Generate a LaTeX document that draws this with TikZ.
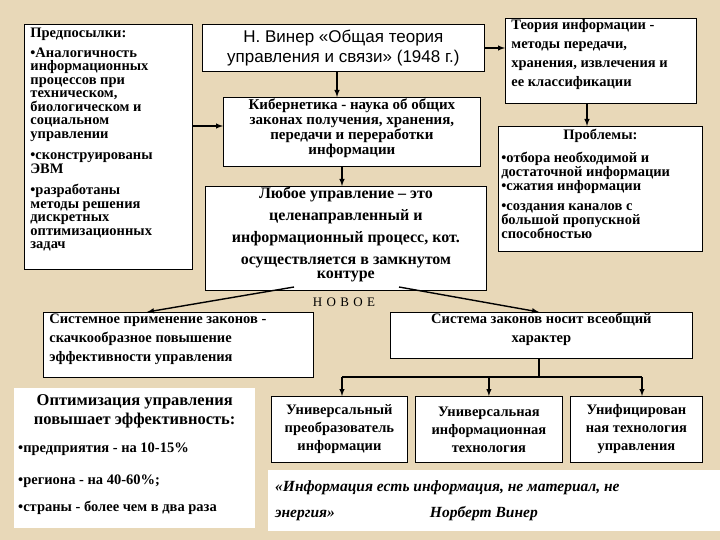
\documentclass[tikz,border=0pt]{standalone}
\usepackage{fontspec}
\setmainfont{Liberation Serif}
\newfontfamily\sansf{Liberation Sans}
\begin{document}
\begin{tikzpicture}[x=1pt,y=-1pt,
 bx/.style={draw,fill=white,line width=0.8pt,inner sep=0pt,anchor=north west},
 wb/.style={fill=white,inner sep=0pt,anchor=north west},
 ar/.style={-latex,line width=1.4pt},
 ln/.style={line width=1.2pt}]
\fill[fill={rgb,255:red,232;green,216;blue,184}] (0,0) rectangle (720,540);
\useasboundingbox (0,0) rectangle (720,540);
\node[bx] (pre) at (24,24) {\parbox[c][245pt][t]{168pt}{\bfseries\fontsize{14.5}{13.5}\selectfont\raggedright\leftskip6pt
\vspace*{4pt}Предпосылки:\par\vspace{6pt}
•Аналогичность\\информационных\\процессов при\\техническом,\\биологическом и\\социальном\\управлении\par\vspace{8pt}
•сконструированы\\ЭВМ\par\vspace{8pt}
•разработаны\\методы решения\\дискретных\\оптимизационных\\задач}};
\node[bx] (win) at (202,24) {\parbox[c][47pt][c]{282pt}{\centering\sansf\fontsize{17}{20}\selectfont Н. Винер «Общая теория\\управления и связи» (1948 г.)}};
\node[bx] (th) at (505,18) {\parbox[c][85pt][t]{191pt}{\bfseries\fontsize{14.5}{19}\selectfont\raggedright\leftskip6pt\vspace*{1pt}
Теория информации -\\методы передачи,\\хранения, извлечения и\\ее классификации}};
\node[bx] (kib) at (223,97) {\parbox[c][69pt][t]{257pt}{\centering\bfseries\fontsize{15}{15}\selectfont\vspace*{1pt}
Кибернетика - наука об общих\\законах получения, хранения,\\передачи и переработки\\информации}};
\node[bx] (pr) at (498,126) {\parbox[c][125pt][t]{204pt}{\bfseries\fontsize{14.5}{14}\selectfont\raggedright\leftskip3pt\vspace*{3pt}
{\centering Проблемы:\par}\vspace{9pt}
•отбора необходимой и\\достаточной информации\\•сжатия информации\par\vspace{6pt}
•создания каналов с\\большой пропускной\\способностью}};
\node[bx] (lub) at (205,186) {\parbox[c][104pt][t]{281pt}{\centering\bfseries\fontsize{16}{22}\selectfont\vspace*{1pt}
Любое управление – это\\целенаправленный и\\информационный процесс, кот.\\осуществляется в замкнутом\\[-8pt]контуре}};
\node[font=\fontsize{13}{13}\selectfont] (nov) at (344,302) {Н\,\,О\,\,В\,\,О\,\,Е};
\node[bx] (sp) at (43,312) {\parbox[c][65pt][t]{270pt}{\bfseries\fontsize{14.5}{19}\selectfont\raggedright\leftskip6pt\vspace*{1pt}
Системное применение законов -\\скачкообразное повышение\\эффективности управления}};
\node[bx] (sz) at (390,312) {\parbox[c][46pt][t]{302pt}{\centering\bfseries\fontsize{14.5}{19}\selectfont\vspace*{1pt}
Система законов носит всеобщий\\характер}};
\node[bx] (u1) at (271,396) {\parbox[c][66pt][c]{136pt}{\centering\bfseries\fontsize{14.5}{18}\selectfont Универсальный\\преобразователь\\информации}};
\node[bx] (u2) at (415,396) {\parbox[c][66pt][c]{147pt}{\centering\bfseries\fontsize{14.5}{18}\selectfont Универсальная\\информационная\\технология}};
\node[bx] (u3) at (570,396) {\parbox[c][66pt][c]{132pt}{\centering\bfseries\fontsize{14.5}{18}\selectfont Унифицирован\\ная технология\\управления}};
\node[wb] (opt) at (14,388) {\parbox[c][140pt][t]{241pt}{\bfseries\fontsize{14.5}{14}\selectfont\raggedright\leftskip4pt\vspace*{6pt}
{\centering\fontsize{16.5}{19}\selectfont Оптимизация управления\\повышает эффективность:\par}\vspace{14pt}
•предприятия - на 10-15\%\par\vspace{18pt}•региона - на 40-60\%;\par\vspace{13pt}•страны - более чем в два раза}};
\node[wb] (q) at (268,470) {\parbox[c][61pt][c]{452pt}{\bfseries\itshape\fontsize{15.5}{26}\selectfont\leftskip7pt
«Информация есть информация, не материал, не\\энергия»\hspace{95pt}Норберт Винер}};
\draw[ar] (win.south -| 337,0) -- (kib.north -| 337,0);
\draw[ar] (kib.south -| 342,0) -- (lub.north -| 342,0);
\draw[ar] (pre.east |- 0,126) -- (kib.west |- 0,126);
\draw[ar] (win.east |- 0,48) -- (th.west |- 0,48);
\draw[ar] (th.south -| 587,0) -- (pr.north -| 587,0);
\coordinate (l1) at (294,287); \coordinate (r1) at (399,287);
\draw[ar] (l1) -- (sp.north -| 147,0);
\draw[ar] (r1) -- (sz.north -| 539,0);
\coordinate (t0) at (539,377);
\draw[ln] (sz.south -| 539,0) -- (t0);
\draw[ln] (342,377) -- (642,377);
\draw[ar] (342,377) -- (u1.north -| 342,0);
\draw[ar] (t0 -| u2.north) -- (u2.north);
\draw[ar] (642,377) -- (u3.north -| 642,0);
\end{tikzpicture}
\end{document}
